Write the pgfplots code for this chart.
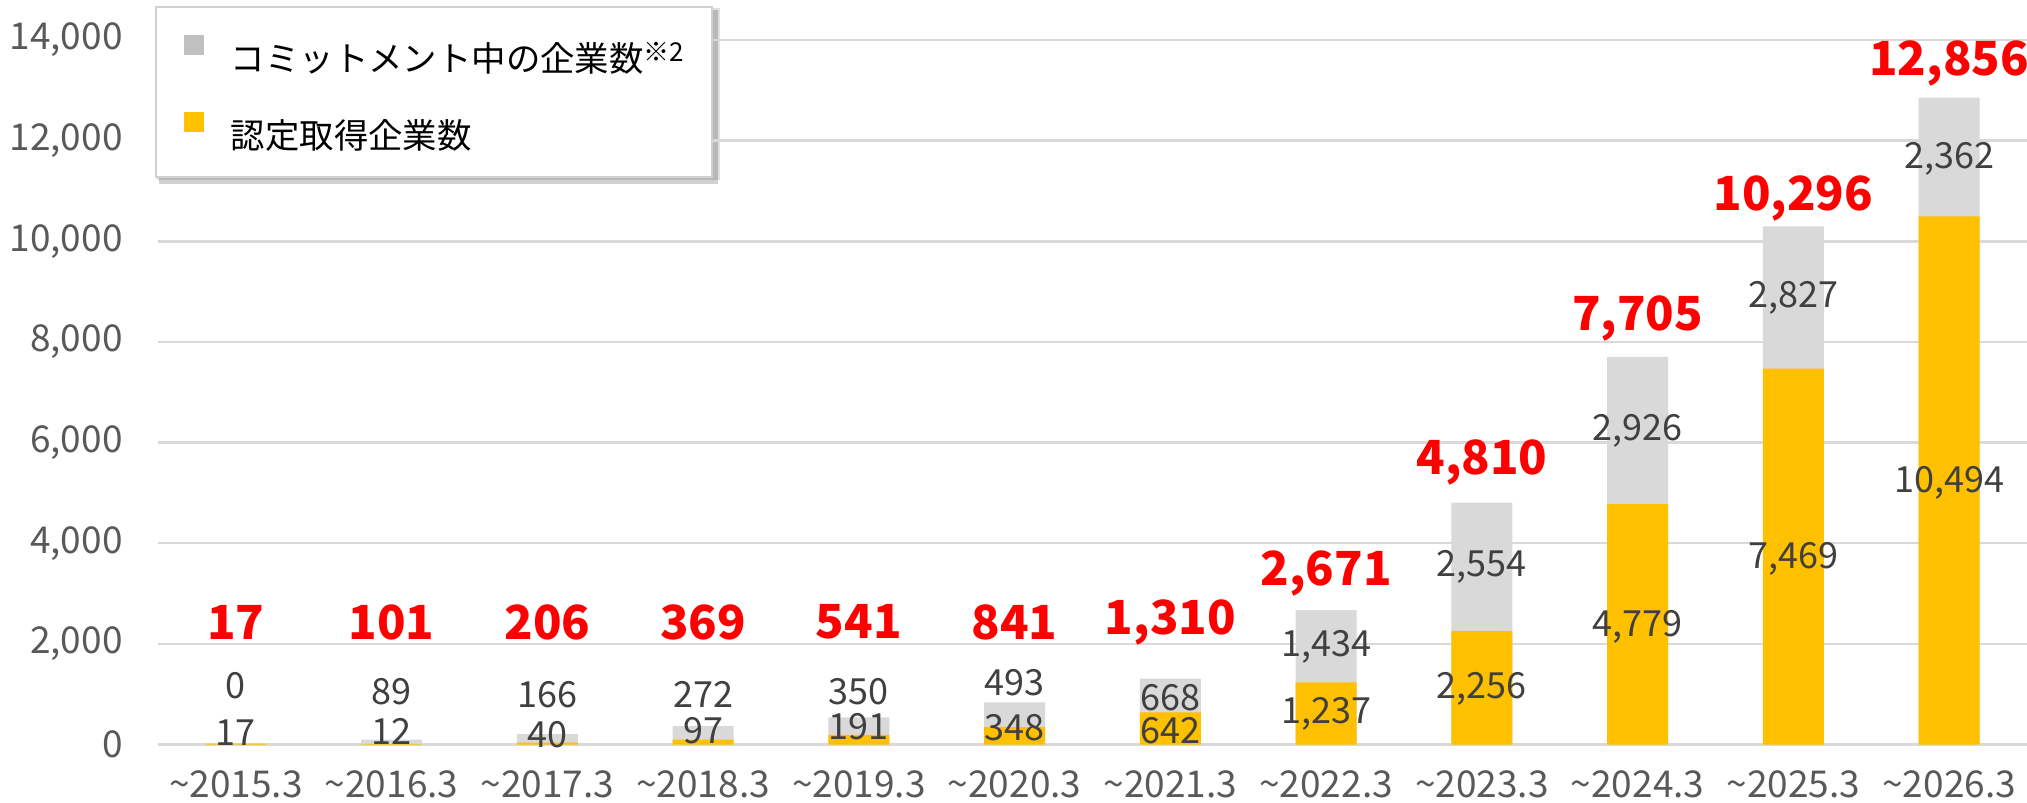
\documentclass[border=0pt]{standalone}
\usepackage{pgfplots}
\pgfplotsset{compat=1.18}
\usepackage{pgfplotstable}
\usepackage{fontspec}
\setmainfont{Noto Sans CJK JP}
\pgfdeclarelayer{background}
\pgfsetlayers{background,main}
\definecolor{barY}{HTML}{FFC000}
\definecolor{barG}{HTML}{D9D9D9}
\definecolor{legG}{HTML}{C0C0C0}
\definecolor{tickC}{HTML}{595959}
\definecolor{lblC}{HTML}{404040}
\definecolor{gridC}{HTML}{D9D9D9}
\definecolor{legB}{HTML}{D0D0D0}
\definecolor{totR}{HTML}{FF0000}

% x: category, cert: 認定取得, commit: コミットメント中, total = cert + commit
% ycert / ycommit / ytotal: where the value labels sit
\pgfplotstableread{
x cert commit total ycert ycommit ytotal
0 17 0 17 230 1180 2436
1 12 89 101 256 1051 2436
2 40 166 206 205 1000 2436
3 97 272 369 282 1000 2436
4 191 350 541 359 1051 2436
5 348 493 841 333 1231 2436
6 642 668 1310 270 935 2436
7 1237 1434 2671 615 1949 3410
8 2256 2554 4810 1103 3538 5615
9 4779 2926 7705 2333 6231 8462
10 7469 2827 10296 3692 8872 10846
11 10494 2362 12856 5205 11641 13538
}\data

\begin{document}
\begin{tikzpicture}
\begin{axis}[
  scale only axis, width=934.5bp, height=352.3bp,
  xmin=-0.5, xmax=11.5, ymin=0, ymax=14000,
  xtick={0,...,11},
  xticklabels={\textasciitilde 2015.3,\textasciitilde 2016.3,\textasciitilde 2017.3,\textasciitilde 2018.3,\textasciitilde 2019.3,\textasciitilde 2020.3,\textasciitilde 2021.3,\textasciitilde 2022.3,\textasciitilde 2023.3,\textasciitilde 2024.3,\textasciitilde 2025.3,\textasciitilde 2026.3},
  ytick={0,2000,...,14000},
  scaled y ticks=false,
  ymajorgrids, major grid style={gridC, line width=1.2bp},
  axis line style={draw=none}, major tick length=0pt,
  tick label style={font=\fontsize{18.5bp}{22bp}\selectfont, text=tickC},
  /pgf/number format/assume math mode=true,
  yticklabel style={/pgf/number format/1000 sep={,}, anchor=east, inner sep=0pt, xshift=-17.5bp},
  xticklabel style={anchor=base, inner sep=0pt, yshift=-26.5bp},
  clip=false,
  legend style={name=leg, at={(axis description cs:-0.0016,1.048)}, anchor=north west,
    draw=legB, fill=white, line width=0.8bp,
    font=\fontsize{17.2bp}{20bp}\selectfont,
    nodes={inner sep=0pt, text height=17bp, text depth=0bp},
    inner xsep=14bp, inner ysep=14bp, row sep=20bp,
    cells={anchor=west},
    /tikz/every odd column/.append style={column sep=13.5bp}},
]
\addplot[ybar, bar width=30.4bp, bar shift=0pt, fill=barG, draw=none,
  legend image code/.code={\fill[legG] (0bp,0bp) rectangle (10bp,10bp);}]
  table[x=x, y=total]{\data};
\addlegendentry{コミットメント中の企業数\raisebox{5bp}{\fontsize{13bp}{13bp}\selectfont ※2}}
\addplot[ybar, bar width=30.4bp, bar shift=0pt, fill=barY, draw=none,
  legend image code/.code={\fill[barY] (0bp,0bp) rectangle (10bp,10bp);}]
  table[x=x, y=cert]{\data};
\addlegendentry{認定取得企業数}

\addplot[forget plot, only marks, mark=*, mark size=0pt, mark options={draw=none, fill=none},
  point meta=explicit,
  nodes near coords={\pgfmathprintnumber[fixed,precision=0,1000 sep={,}]{\pgfplotspointmeta}},
  every node near coord/.style={anchor=center, inner sep=0pt, font=\fontsize{18bp}{22bp}\selectfont, text=lblC}]
  table[x=x, y=ycert, meta=cert]{\data};
\addplot[forget plot, only marks, mark=*, mark size=0pt, mark options={draw=none, fill=none},
  point meta=explicit,
  nodes near coords={\pgfmathprintnumber[fixed,precision=0,1000 sep={,}]{\pgfplotspointmeta}},
  every node near coord/.style={anchor=center, inner sep=0pt, font=\fontsize{18bp}{22bp}\selectfont, text=lblC}]
  table[x=x, y=ycommit, meta=commit]{\data};
\addplot[forget plot, only marks, mark=*, mark size=0pt, mark options={draw=none, fill=none},
  point meta=explicit,
  nodes near coords={\pgfmathprintnumber[fixed,precision=0,1000 sep={,}]{\pgfplotspointmeta}},
  every node near coord/.style={anchor=center, inner sep=0pt, font=\bfseries\fontsize{23.5bp}{27bp}\selectfont, text=totR}]
  table[x=x, y=ytotal, meta=total]{\data};
\end{axis}
\begin{pgfonlayer}{background}
  \fill[black, opacity=0.12] ([shift={(1bp,-1bp)}]leg.south west) rectangle ([shift={(3.5bp,-1bp)}]leg.north east);
  \fill[black, opacity=0.18] ([shift={(2bp,-3bp)}]leg.south west) rectangle ([shift={(2.5bp,-2bp)}]leg.north east);
\end{pgfonlayer}
\pgfresetboundingbox
\path[use as bounding box] ([xshift=-79bp, yshift=-29.2bp]current axis.south west) rectangle ++(1013.5bp, 401.5bp);
\end{tikzpicture}
\end{document}
